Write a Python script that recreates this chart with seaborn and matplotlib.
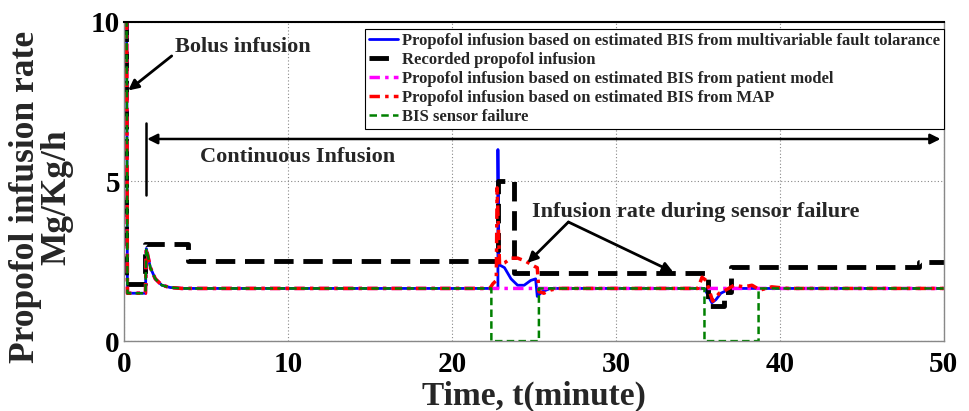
import matplotlib
matplotlib.use("Agg")
import matplotlib.pyplot as plt
import numpy as np
import pandas as pd
import seaborn as sns

# --- values ---
start_t = [0, 0.15, 0.2, 1.3, 1.35, 1.6, 1.9, 2.3, 2.8, 3.5]
start_y = [10, 10, 1.5, 1.5, 2.9, 2.3, 1.95, 1.75, 1.68, 1.65]

blue_t = start_t + [22.8, 22.8, 22.85, 23.2, 23.6, 24.0, 24.4, 24.8, 25.1, 25.2, 25.5, 26.0,
                    35.4, 35.6, 35.85, 36.1, 36.4, 36.8, 37.3, 50]
blue_y = start_y + [1.65, 6.0, 2.4, 2.3, 1.95, 1.75, 1.75, 1.9, 1.95, 1.4, 1.55, 1.65,
                    1.65, 1.45, 1.2, 1.3, 1.5, 1.6, 1.65, 1.65]

black_t = [0.1, 0.1, 0.3, 1.3, 1.3, 3.9, 3.9, 22.8, 22.8, 23.8, 23.8, 35.6, 35.6,
           36.6, 36.6, 37.0, 37.0, 48.5, 48.5, 50]
black_y = [10, 1.8, 1.8, 1.8, 3.05, 3.05, 2.52, 2.52, 5.0, 5.0, 2.13, 2.13, 1.1,
           1.1, 1.55, 1.55, 2.32, 2.32, 2.48, 2.48]

magenta_t = start_t + [50]
magenta_y = start_y + [1.65]

red_t = start_t + [22.3, 22.5, 22.7, 22.75, 22.9, 23.2, 23.6, 24.0, 24.5, 25.0, 25.2, 25.3,
                   25.6, 26.0, 26.5, 35.0, 35.25, 35.5, 35.9, 36.3, 36.7, 37.2, 37.8,
                   38.3, 38.8, 39.5, 40.5, 50]
red_y = start_y + [1.65, 1.8, 1.9, 4.8, 2.4, 2.45, 2.6, 2.6, 2.5, 2.35, 2.3, 1.55,
                   1.5, 1.6, 1.65, 1.65, 2.0, 1.9, 1.25, 1.5, 1.6, 1.75, 1.7,
                   1.75, 1.6, 1.7, 1.65, 1.65]

green_t = start_t + [22.4, 22.4, 25.3, 25.3, 35.4, 35.4, 38.7, 38.7, 50]
green_y = start_y + [1.65, 0, 0, 1.65, 1.65, 0, 0, 1.65, 1.65]

labels = ["Propofol infusion based on estimated BIS from multivariable fault tolarance",
          "Recorded propofol infusion",
          "Propofol infusion based on estimated BIS from patient model",
          "Propofol infusion based on estimated BIS from MAP",
          "BIS sensor failure"]

x_ticks = [0, 10, 20, 30, 40, 50]
y_ticks = [0, 5, 10]

sns.set_style("white")
plt.rcParams['font.family'] = ['Liberation Serif', 'DejaVu Serif']
plt.rcParams['font.weight'] = 'bold'

fig = plt.figure(figsize=(9.7, 4.11), dpi=100)
ax = fig.add_axes([0.128, 0.170, 0.845, 0.777])

series = [
    (blue_t, blue_y, "#0000ff", "-", 2.0),
    (black_t, black_y, "#000000", (0, (4, 2)), 3.5),
    (magenta_t, magenta_y, "#ff00ff", (0, (3, 1.5, 1, 1.5)), 2.5),
    (red_t, red_y, "#ff0000", (0, (3, 1.5, 1, 1.5)), 2.5),
    (green_t, green_y, "#008000", (0, (3, 1.7)), 1.8),
]
for (t, y, c, ls, lw), lab in zip(series, labels):
    df = pd.DataFrame({"t": t, "y": y})
    sns.lineplot(data=df, x="t", y="y", ax=ax, color=c, linestyle=ls, linewidth=lw,
                 label=lab, estimator=None, sort=False)

ax.set_xlim(0, 50)
ax.set_ylim(0, 10)
ax.set_xticks(x_ticks)
ax.set_yticks(y_ticks)
ax.grid(True, color="#888888", linestyle=(0, (1, 2)), linewidth=0.8)
ax.tick_params(direction="in", length=3, labelsize=21, colors="#888888",
               labelcolor="black")
ax.tick_params(axis="x", pad=7)
ax.tick_params(axis="y", pad=3)
for lab in ax.get_xticklabels() + ax.get_yticklabels():
    lab.set_fontweight("bold")
for s in ["left", "right", "bottom"]:
    ax.spines[s].set_color("#888888")
    ax.spines[s].set_linewidth(1.0)
ax.spines["top"].set_color("black")
ax.spines["top"].set_linewidth(1.5)

ax.set_xlabel("Time, t(minute)", fontsize=24, fontweight="bold", labelpad=2)
ax.set_ylabel("Propofol infusion rate\nMg/Kg/h", fontsize=25.5, fontweight="bold",
              linespacing=0.95)
ax.yaxis.set_label_coords(-0.062, 0.45)

leg = ax.legend(loc="upper right", bbox_to_anchor=(1.0, 0.978), fontsize=12,
                frameon=True, fancybox=False, edgecolor="black", framealpha=1,
                handlelength=1.75, handletextpad=0.2, labelspacing=0.18,
                borderpad=0.25, borderaxespad=0)
leg.get_frame().set_linewidth(0.8)
for txt in leg.get_texts():
    txt.set_fontweight("bold")

# annotations
ax.annotate("Bolus infusion", xy=(0.25, 7.85), xytext=(3.1, 9.2), fontsize=16,
            fontweight="bold", va="center",
            arrowprops=dict(arrowstyle="-|>", color="black", lw=2, shrinkA=0,
                            shrinkB=0, mutation_scale=15, relpos=(0, 0.2)))
ax.plot([1.35, 1.35], [4.58, 6.83], color="black", lw=1.8)
ax.annotate("", xy=(1.4, 6.33), xytext=(49.8, 6.33),
            arrowprops=dict(arrowstyle="<|-|>", color="black", lw=1.8,
                            shrinkA=0, shrinkB=0, mutation_scale=15))
ax.text(4.6, 5.77, "Continuous Infusion", fontsize=16, fontweight="bold", va="center")
ax.text(24.9, 4.04, "Infusion rate during sensor failure", fontsize=16,
        fontweight="bold", va="center")
for end in [(24.6, 2.45), (33.5, 2.16)]:
    ax.annotate("", xy=end, xytext=(27.1, 3.73),
                arrowprops=dict(arrowstyle="-|>", color="black", lw=2,
                                shrinkA=0, shrinkB=0, mutation_scale=15))

fig.savefig("out.png", dpi=100)
